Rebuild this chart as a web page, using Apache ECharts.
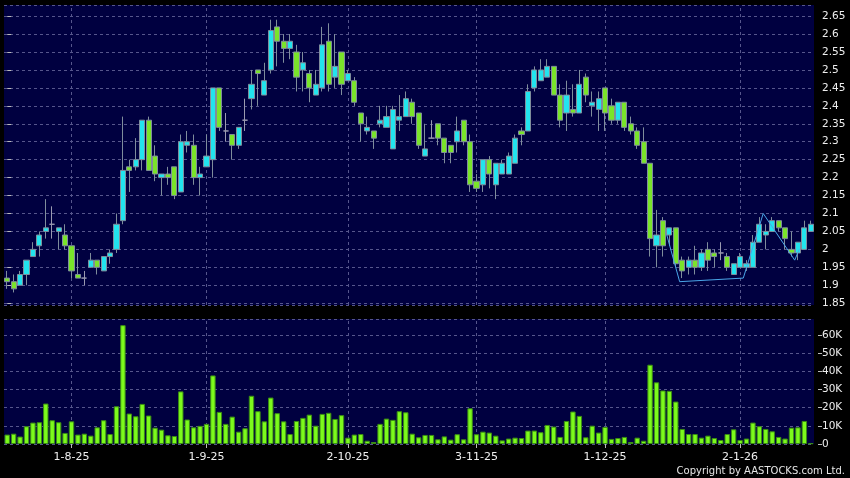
<!DOCTYPE html>
<html><head><meta charset="utf-8">
<script src="https://cdn.jsdelivr.net/npm/echarts@6/dist/echarts.min.js"></script>
<style>html,body{margin:0;padding:0;background:#000;}#c{width:850px;height:478px;}</style>
</head><body><div id="c"></div>
<script>
const dates = [
'18-7-25','21-7-25','22-7-25','23-7-25','24-7-25','25-7-25','28-7-25','29-7-25','30-7-25','31-7-25',
'1-8-25','4-8-25','5-8-25','6-8-25','7-8-25','8-8-25','11-8-25','12-8-25','13-8-25','14-8-25','15-8-25','18-8-25','19-8-25','20-8-25','21-8-25','22-8-25','25-8-25','26-8-25','27-8-25','28-8-25','29-8-25',
'1-9-25','2-9-25','3-9-25','4-9-25','5-9-25','8-9-25','9-9-25','10-9-25','11-9-25','12-9-25','15-9-25','16-9-25','17-9-25','18-9-25','19-9-25','22-9-25','23-9-25','24-9-25','25-9-25','26-9-25','29-9-25','30-9-25',
'2-10-25','3-10-25','6-10-25','8-10-25','9-10-25','10-10-25','13-10-25','14-10-25','15-10-25','16-10-25','17-10-25','20-10-25','21-10-25','22-10-25','23-10-25','24-10-25','27-10-25','28-10-25','30-10-25','31-10-25',
'3-11-25','4-11-25','5-11-25','6-11-25','7-11-25','10-11-25','11-11-25','12-11-25','13-11-25','14-11-25','17-11-25','18-11-25','19-11-25','20-11-25','21-11-25','24-11-25','25-11-25','26-11-25','27-11-25','28-11-25',
'1-12-25','2-12-25','3-12-25','4-12-25','5-12-25','8-12-25','9-12-25','10-12-25','11-12-25','12-12-25','15-12-25','16-12-25','17-12-25','18-12-25','19-12-25','22-12-25','23-12-25','24-12-25','29-12-25','30-12-25','31-12-25',
'2-1-26','5-1-26','6-1-26','7-1-26','8-1-26','9-1-26','12-1-26','13-1-26','14-1-26','15-1-26','16-1-26','19-1-26'
];
const opens = [
1.92,1.91,1.90,1.93,1.98,2.01,2.05,2.07,2.05,2.04,
2.01,1.93,1.92,1.95,1.97,1.94,1.98,2.00,2.08,2.23,
2.23,2.25,2.36,2.26,2.20,2.21,2.23,2.16,2.29,2.29,
2.20,2.23,2.25,2.45,2.33,2.32,2.29,2.36,2.42,2.50,
2.43,2.50,2.62,2.58,2.56,2.55,2.50,2.49,2.43,2.45,
2.58,2.48,2.55,2.47,2.47,2.38,2.33,2.33,2.35,2.34,
2.28,2.36,2.37,2.41,2.38,2.26,2.31,2.35,2.31,2.29,
2.30,2.36,2.30,2.19,2.18,2.25,2.18,2.21,2.21,2.24,
2.33,2.33,2.45,2.47,2.48,2.51,2.43,2.38,2.39,2.38,
2.48,2.40,2.39,2.45,2.40,2.36,2.41,2.35,2.33,2.30,
2.24,2.01,2.08,2.04,2.06,1.97,1.95,1.97,1.95,2.00,
1.99,1.99,1.98,1.93,1.95,1.95,1.95,2.02,2.04,2.05,
2.08,2.06,2.00,1.99,2.00,2.05];
const closes = [
1.91,1.89,1.93,1.97,2.00,2.04,2.06,2.07,2.06,2.01,
1.94,1.92,1.92,1.97,1.95,1.98,1.99,2.07,2.22,2.22,
2.25,2.36,2.22,2.21,2.21,2.20,2.15,2.30,2.30,2.20,
2.21,2.26,2.45,2.34,2.33,2.29,2.34,2.36,2.46,2.49,
2.47,2.61,2.58,2.56,2.58,2.48,2.52,2.45,2.46,2.57,
2.46,2.51,2.46,2.49,2.41,2.35,2.34,2.31,2.36,2.37,
2.39,2.37,2.42,2.37,2.29,2.28,2.31,2.31,2.27,2.27,
2.33,2.30,2.18,2.17,2.25,2.21,2.24,2.24,2.26,2.31,
2.32,2.44,2.50,2.50,2.51,2.43,2.36,2.43,2.38,2.46,
2.43,2.41,2.42,2.38,2.36,2.41,2.34,2.33,2.29,2.24,
2.03,2.04,2.01,2.06,1.96,1.94,1.97,1.95,1.99,1.97,
1.98,1.99,1.95,1.96,1.98,1.96,2.02,2.07,2.05,2.08,
2.06,2.03,1.99,2.02,2.06,2.07];
const lows = [
1.89,1.88,1.90,1.90,1.98,1.98,2.03,2.03,2.00,2.00,
1.92,1.92,1.90,1.95,1.93,1.94,1.96,1.99,2.07,2.16,
2.22,2.22,2.22,2.19,2.15,2.18,2.14,2.16,2.27,2.18,
2.15,2.23,2.20,2.33,2.30,2.25,2.28,2.33,2.39,2.40,
2.43,2.49,2.51,2.52,2.53,2.44,2.44,2.41,2.43,2.44,
2.44,2.45,2.43,2.47,2.40,2.30,2.32,2.28,2.34,2.34,
2.28,2.33,2.37,2.35,2.28,2.26,2.31,2.29,2.24,2.24,
2.27,2.29,2.16,2.16,2.16,2.17,2.14,2.21,2.21,2.24,
2.29,2.33,2.44,2.47,2.48,2.43,2.34,2.33,2.37,2.38,
2.41,2.37,2.33,2.33,2.35,2.35,2.33,2.32,2.28,2.24,
1.98,1.95,1.98,2.01,1.95,1.92,1.93,1.93,1.94,1.94,
1.95,1.97,1.94,1.93,1.95,1.94,1.95,2.02,2.00,2.05,
2.05,2.00,1.98,1.97,2.00,2.05];
const highs = [
1.94,1.93,1.94,1.97,2.02,2.05,2.14,2.12,2.06,2.07,
2.01,1.99,1.94,1.99,1.97,1.98,2.00,2.10,2.37,2.25,
2.31,2.36,2.37,2.29,2.21,2.23,2.23,2.32,2.33,2.32,
2.23,2.32,2.45,2.45,2.38,2.32,2.34,2.42,2.50,2.50,
2.52,2.64,2.64,2.60,2.60,2.57,2.55,2.50,2.50,2.62,
2.63,2.60,2.55,2.50,2.48,2.38,2.37,2.33,2.40,2.40,
2.40,2.43,2.44,2.42,2.38,2.35,2.36,2.35,2.31,2.29,
2.37,2.36,2.32,2.21,2.25,2.26,2.24,2.25,2.27,2.32,
2.34,2.46,2.51,2.53,2.53,2.51,2.46,2.47,2.46,2.50,
2.49,2.44,2.44,2.45,2.42,2.41,2.41,2.37,2.34,2.34,
2.24,2.11,2.09,2.06,2.06,1.98,1.98,2.01,2.00,2.02,
2.00,2.02,1.99,1.96,1.99,1.97,2.04,2.09,2.07,2.09,
2.08,2.06,2.05,2.02,2.08,2.08];
const volumes = [
5200,5700,4100,9800,11800,12000,22300,13100,12000,6100,
12500,5200,5700,4600,9200,13100,5500,20800,65500,16800,
15300,22100,15700,9000,7900,4800,4400,29000,13500,9200,
10000,11100,37800,17700,11100,15100,6800,8700,26600,18100,
12500,25600,17000,12500,5500,12700,14400,16200,10100,16600,
17200,13800,15900,3500,5200,5500,1800,1100,11100,14000,
13300,18100,17500,5700,3700,5000,5000,2600,4200,2400,
5400,2600,19700,5400,6800,6300,4600,2000,3000,3500,
3300,7400,7400,6500,10500,9600,3900,12700,17900,15500,
3700,10100,6300,9400,2800,3300,3900,1100,3500,1800,
43700,34000,29500,29300,23400,8300,5500,5500,3500,4600,
3300,2200,5500,8100,2200,3000,11800,9800,8300,7000,
3900,3000,9000,9200,12700,400];
const dateLabels = ['1-8-25','1-9-25','2-10-25','3-11-25','1-12-25','2-1-26'];
const patternX = [102.6, 104.6, 114.5, 117.6, 122.5, 123.2];
const patternY = [2.04, 1.91, 1.92, 2.10, 1.97, 2.00];

const gridColor = '#56568c';
const labelSet = new Set(dateLabels);
const showAt = (i, v) => labelSet.has(v);
const font = 'DejaVu Sans';
const vline = {
  silent: true, symbol: ['none','none'], label: {show:false},
  lineStyle: {color: gridColor, type: [3,3], width: 1},
  emphasis: {disabled: true},
  data: dateLabels.map(d => ({xAxis: d}))
};

const chart = echarts.init(document.getElementById('c'));
chart.setOption({
  backgroundColor: '#000000',
  animation: false,
  grid: [
    {left: 4, top: 5, width: 810, height: 300, show: true, backgroundColor: '#000040', borderWidth: 0},
    {left: 4, top: 319, width: 810, height: 125, show: true, backgroundColor: '#000040', borderWidth: 0}
  ],
  xAxis: [
    {type: 'category', gridIndex: 0, data: dates, axisLine: {show: false}, axisTick: {show: false}, axisLabel: {show: false}, splitLine: {show: false}},
    {type: 'category', gridIndex: 1, data: dates, axisLine: {show: false},
     axisTick: {show: true, alignWithLabel: true, interval: showAt, length: 4, lineStyle: {color: '#bbbbbb'}},
     axisLabel: {interval: showAt, color: '#eeeeee', fontSize: 11, fontFamily: font, margin: 8},
     splitLine: {show: false}},
    {type: 'value', gridIndex: 0, min: -0.5, max: dates.length - 0.5, show: false}
  ],
  yAxis: [
    {type: 'value', gridIndex: 0, position: 'right', min: 1.845, max: 2.681, minInterval: 0.05, maxInterval: 0.05, splitNumber: 17, offset: 4,
     axisLine: {show: false}, axisTick: {show: true, length: 4, lineStyle: {color: '#bbbbbb'}},
     axisLabel: {color: '#eeeeee', fontSize: 10.5, fontFamily: font, margin: 4, showMinLabel: false, showMaxLabel: false},
     splitLine: {show: true, lineStyle: {color: gridColor, type: [3,3], width: 1}}},
    {type: 'value', gridIndex: 1, position: 'right', min: 0, max: 68900, interval: 10000, offset: 4,
     axisLine: {show: false}, axisTick: {show: true, length: 4, lineStyle: {color: '#bbbbbb'}},
     axisLabel: {color: '#eeeeee', fontSize: 10.5, fontFamily: font, margin: 4, showMaxLabel: false,
       formatter: v => v === 0 ? '0' : (v / 1000) + 'K'},
     splitLine: {show: true, lineStyle: {color: gridColor, type: [3,3], width: 1}}}
  ],
  series: [
    {type: 'candlestick', xAxisIndex: 0, yAxisIndex: 0, z: 10, barWidth: 5.6,
     data: dates.map((d, i) => [opens[i], closes[i], lows[i], highs[i]]),
     itemStyle: {color: '#22e4ee', color0: '#7ae42a', borderColor: '#7f8d9c', borderColor0: '#7f8d9c', borderColorDoji: '#9a9ab0', borderWidth: 1},
     markLine: vline},
    {type: 'bar', xAxisIndex: 1, yAxisIndex: 1, z: 10, barWidth: 5.4, data: volumes,
     itemStyle: {color: '#7cfa1c', borderColor: '#3a8c14', borderWidth: 1},
     markLine: vline},
    {type: 'line', xAxisIndex: 2, yAxisIndex: 0, z: 12, symbol: 'none',
     data: patternX.map((x, i) => [x, patternY[i]]),
     lineStyle: {color: '#4aa6e8', width: 1}}
  ],
  graphic: [
    {type: 'text', right: 5, top: 466, style: {text: 'Copyright by AASTOCKS.com Ltd.', fill: '#e6e6e6', font: '10px "DejaVu Sans"'}}
  ]
});
</script></body></html>
